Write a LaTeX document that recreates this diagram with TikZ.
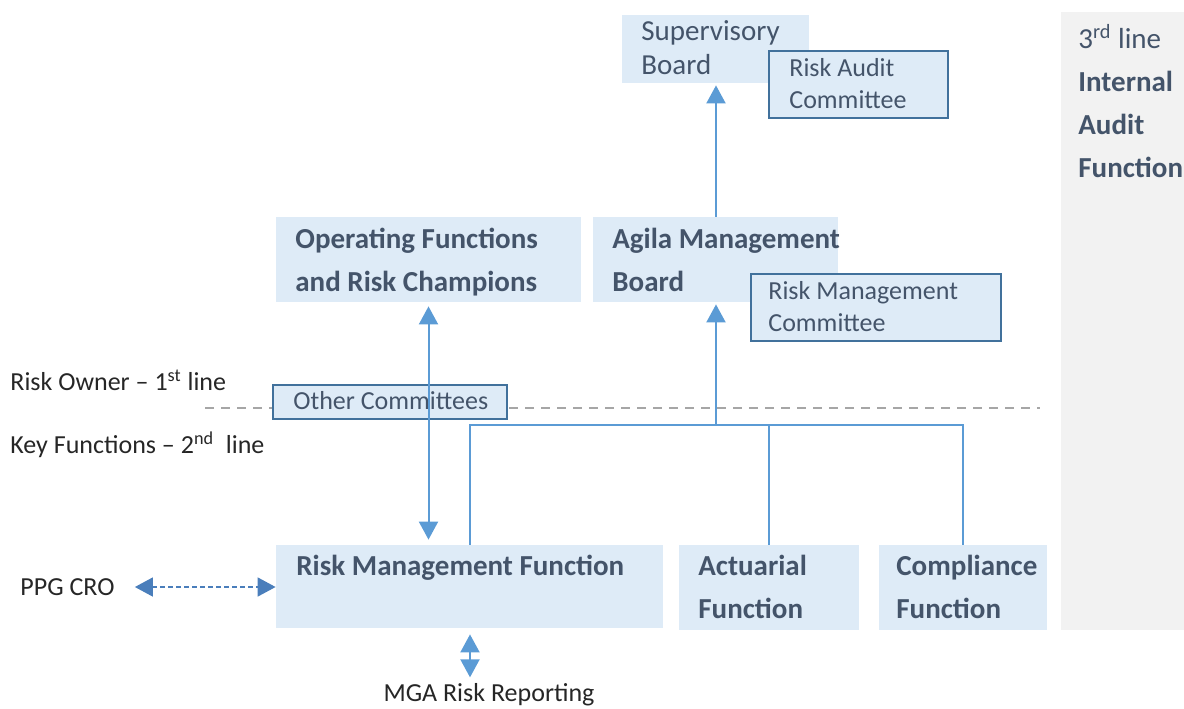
\documentclass[tikz,border=0pt]{standalone}
\usepackage{fontspec}
\setmainfont{Carlito}
\usetikzlibrary{fit,arrows.meta}
\definecolor{boxfill}{HTML}{DEEBF7}
\definecolor{boxtext}{HTML}{44546A}
\definecolor{cboxline}{HTML}{41719C}
\definecolor{arrowblue}{HTML}{5B9BD5}
\definecolor{dasharrow}{HTML}{4A7EBB}
\definecolor{panelgray}{HTML}{F2F2F2}
\definecolor{dashgray}{HTML}{A6A6A6}
\tikzset{
  box/.style={fill=boxfill, draw=none, inner sep=0pt},
  cbox/.style={fill=boxfill, draw=cboxline, line width=1.2pt, inner sep=0pt},
  panel/.style={fill=panelgray, draw=none, inner sep=0pt},
  bt/.style={font=\fontsize{14.5}{21.5}\selectfont\bfseries, text=boxtext, align=left, inner sep=0pt, anchor=north west},
  nt/.style={font=\fontsize{14.5}{17}\selectfont, text=boxtext, align=left, inner sep=0pt, anchor=north west},
  ct/.style={font=\fontsize{13}{16}\selectfont, text=boxtext, align=left, inner sep=0pt, anchor=north west},
  lt/.style={font=\fontsize{13}{15}\selectfont, text=black!85, inner sep=0pt},
  conn/.style={draw=arrowblue, line width=0.75pt},
  arr/.style={draw=arrowblue, line width=1pt, arrows={-Triangle[width=9.5pt,length=9pt]}},
  darr/.style={draw=arrowblue, line width=1pt, arrows={Triangle[width=9.5pt,length=9pt]-Triangle[width=9.5pt,length=9pt]}},
  dashgrayline/.style={draw=dashgray, line width=1pt, dash pattern=on 4.5pt off 3.5pt},
}
\begin{document}
\begin{tikzpicture}[x=0.5pt,y=-0.5pt]
\useasboundingbox (0,0) rectangle (1184,708);
% right panel
\node[panel, fit={(1061,12)(1184,630)}] (panel) {};
\node[anchor=north west, inner sep=0pt, align=left, text=boxtext, font=\fontsize{14.5}{21.5}\selectfont] (paneltext) at (1078,24)
  {3\textsuperscript{rd} line\\\textbf{Internal}\\\textbf{Audit}\\\textbf{Function}};
% dashed separator
\coordinate (d1) at (205,408);
\coordinate (d2) at (1040,408);
\draw[dashgrayline] (d1) -- (d2);
% boxes
\node[box, fit={(622,15)(809,83)}] (sup) {};
\node[nt] (tsup) at (641,20) {Supervisory\\Board};
\node[cbox, fit={(769,51)(948,118)}] (rac) {};
\node[ct] (trac) at (789,58) {Risk Audit\\Committee};
\node[box, fit={(276,217)(581,302)}] (opf) {};
\node[bt] (topf) at (295,228) {Operating Functions\\and Risk Champions};
\node[box, fit={(593,217)(838,302)}] (amb) {};
\node[bt] (tamb) at (612,228) {Agila Management\\Board};
\node[cbox, fit={(751,274)(1001,341)}] (rmc) {};
\node[ct] (trmc) at (768,281) {Risk Management\\Committee};
\node[cbox, fit={(273,385)(507,419)}] (oc) {};
\node[ct] (toc) at (293,391) {Other Committees};
\node[box, fit={(276,545)(663,628)}] (rmf) {};
\node[bt] (trmf) at (296,555) {Risk Management Function};
\node[box, fit={(679,545)(859,630)}] (act) {};
\node[bt] (tact) at (698,555) {Actuarial\\Function};
\node[box, fit={(879,545)(1047,630)}] (cmp) {};
\node[bt] (tcmp) at (896,555) {Compliance\\Function};
% left labels
\node[lt, anchor=west] (l1) at (10,380) {Risk Owner -- 1\textsuperscript{st} line};
\node[lt, anchor=west] (l2) at (10,445) {Key Functions -- 2\textsuperscript{nd}\ \ line};
\node[lt, anchor=west] (ppg) at (20,587) {PPG CRO};
\node[lt] (mga) at (489,695) {MGA Risk Reporting};
% connectors
\coordinate (b1) at (470,425);
\coordinate (j) at (716,425);
\coordinate (b3) at (963,425);
\draw[conn] (rmf.north -| b1) -- (b1) -- (b3) -- (cmp.north);
\draw[conn] (act.north) -- (act.north |- b1);
\draw[arr, shorten >=1pt] (j) -- (amb.south -| j);
\draw[arr, shorten >=1pt] (amb.north -| j) -- (sup.south -| j);
\draw[darr, shorten <=2pt, shorten >=2.5pt] (opf.south) -- (opf.south |- rmf.north);
\draw[darr, draw=dasharrow, line width=0.8pt, dash pattern=on 2.5pt off 1.5pt, shorten <=10pt] (ppg.east) -- (ppg.east -| rmf.west);
\draw[darr, shorten <=3pt, shorten >=3pt] (rmf.south -| b1) -- (mga.north -| b1);
\end{tikzpicture}
\end{document}
